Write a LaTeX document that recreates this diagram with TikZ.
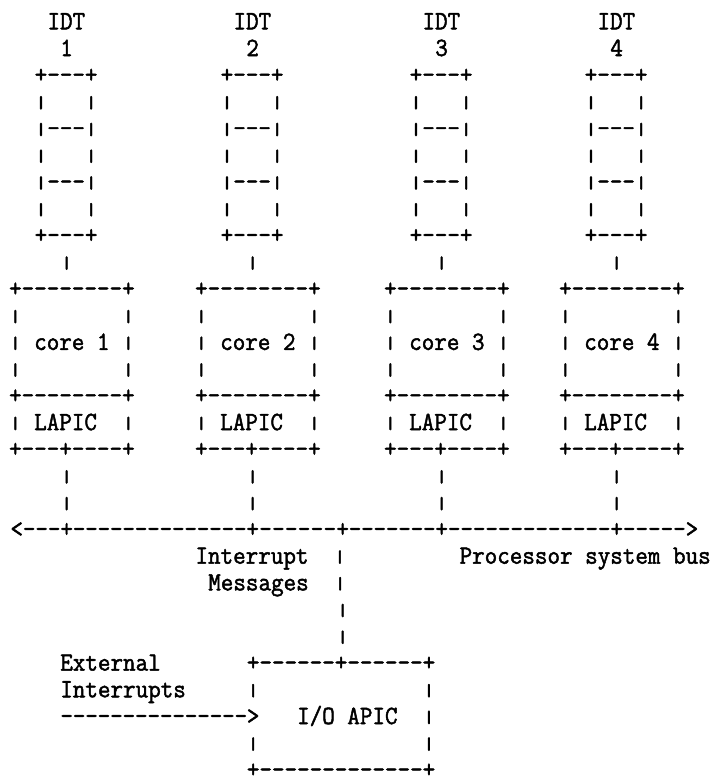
\documentclass[tikz,border=0pt]{standalone}
\usepackage{graphicx}
% every printed row is stretched a little vertically and its glyphs outlined
% a little, so the thin typewriter face reads a bit heavier
\newcommand\tx[1]{\special{pdf:code 2 Tr 0.45 w}\scalebox{1}[1.08]{#1}\special{pdf:code 0 Tr}}
% vertical bar of fixed height standing on the baseline, width unchanged
\newsavebox\barbox
\newcommand\vb{\sbox\barbox{\resizebox*{\width}{12.3pt}{|}}\raisebox{\dp\barbox}{\usebox\barbox}}
% baseline of text row #1
\newcommand\yb[1]{29.3+26.72*(#1)}
\tikzset{
  asc/.style={font=\fontsize{24.38}{26.73}\selectfont\ttfamily, inner sep=0pt, outer sep=0pt, anchor=base west},
  ch/.style={asc, anchor=base},
}
% a row of characters starting at a left edge / one character centred on x
\newcommand\arow[4]{\node[asc] (#1) at ({#2},{\yb{#3}}) {\tx{#4}};}
\newcommand\achr[4]{\node[ch] (#1) at ({#2},{\yb{#3}}) {\tx{#4}};}

\begin{document}
\begin{tikzpicture}[x=1pt,y=-1pt]
\useasboundingbox (0,0) rectangle (711,778);
\fill[white] (0,0) rectangle (711,778);

% four processors: IDT table, core, local APIC
\foreach \X/\n in {15.5/1,201.5/2,390.5/3,565.5/4}{
  \pgfmathsetmacro\L{\X-6.4}
  \arow{idt\n}{\L+3*12.8}{0}{IDT}
  \arow{num\n}{\L+4*12.8}{1}{\n}
  \arow{tab\n-a}{\L+2*12.8}{2}{+---+}
  \arow{tab\n-b}{\L+2*12.8}{3}{\vb~~~\vb}
  \arow{tab\n-c}{\L+2*12.8}{4}{\vb---\vb}
  \arow{tab\n-d}{\L+2*12.8}{5}{\vb~~~\vb}
  \arow{tab\n-e}{\L+2*12.8}{6}{\vb---\vb}
  \arow{tab\n-f}{\L+2*12.8}{7}{\vb~~~\vb}
  \arow{tab\n-g}{\L+2*12.8}{8}{+---+}
  \arow{up\n}{\L+4*12.8}{9}{\vb}
  \arow{core\n-a}{\L}{10}{+--------+}
  \arow{core\n-b}{\L}{11}{\vb~~~~~~~~\vb}
  \arow{core\n-c}{\L}{12}{\vb~core~\n~\vb}
  \arow{core\n-d}{\L}{13}{\vb~~~~~~~~\vb}
  \arow{core\n-e}{\L}{14}{+--------+}
  \arow{lapic\n-a}{\L}{15}{\vb~LAPIC~~\vb}
  \arow{lapic\n-b}{\L}{16}{+---+----+}
  \arow{down\n-a}{\L+4*12.8}{17}{\vb}
  \arow{down\n-b}{\L+4*12.8}{18}{\vb}
}

% processor system bus
\achr{bus-l}{16.7}{19}{<}
\foreach \x/\nm in {66.7/j1,252.7/j2,342.7/jm,441.7/j3,616.7/j4}{
  \achr{\nm}{\x}{19}{+}
}
\achr{bus-r}{692}{19}{>}
\foreach \a/\b/\k [count=\s] in {16.7/66.7/4,66.7/252.7/15,252.7/342.7/7,342.7/441.7/8,441.7/616.7/14,616.7/692/6}{
  \pgfmathtruncatemacro\m{\k-1}
  \foreach \i in {1,...,\m}{
    \achr{bus\s-\i}{\a+(\b-\a)*\i/\k}{19}{-}
  }
}

% labels and the link down to the I/O APIC
\arow{msg1}{342.7-6.4-11*12.8}{20}{Interrupt~~\vb}
\arow{bus-label}{459.6}{20}{Processor~system~bus}
\arow{msg2}{342.7-6.4-10*12.8}{21}{Messages~~\vb}
\achr{link-a}{342.7}{22}{\vb}
\achr{link-b}{342.7}{23}{\vb}

% I/O APIC with the external interrupt input
\arow{ext1}{60.3}{24}{External}
\arow{io-top}{246.9}{24}{+------+------+}
\arow{ext2}{60.3}{25}{Interrupts}
\arow{io-a}{246.9}{25}{\vb~~~~~~~~~~~~~\vb}
\foreach \i in {0,...,14}{
  \achr{ext-\i}{66.7+\i*(253.3-66.7)/15}{26}{-}
}
\arow{io-mid}{246.9}{26}{>~~~I/O~APIC~~\vb}
\arow{io-b}{246.9}{27}{\vb~~~~~~~~~~~~~\vb}
\arow{io-bot}{246.9}{28}{+-------------+}
\end{tikzpicture}
\end{document}
